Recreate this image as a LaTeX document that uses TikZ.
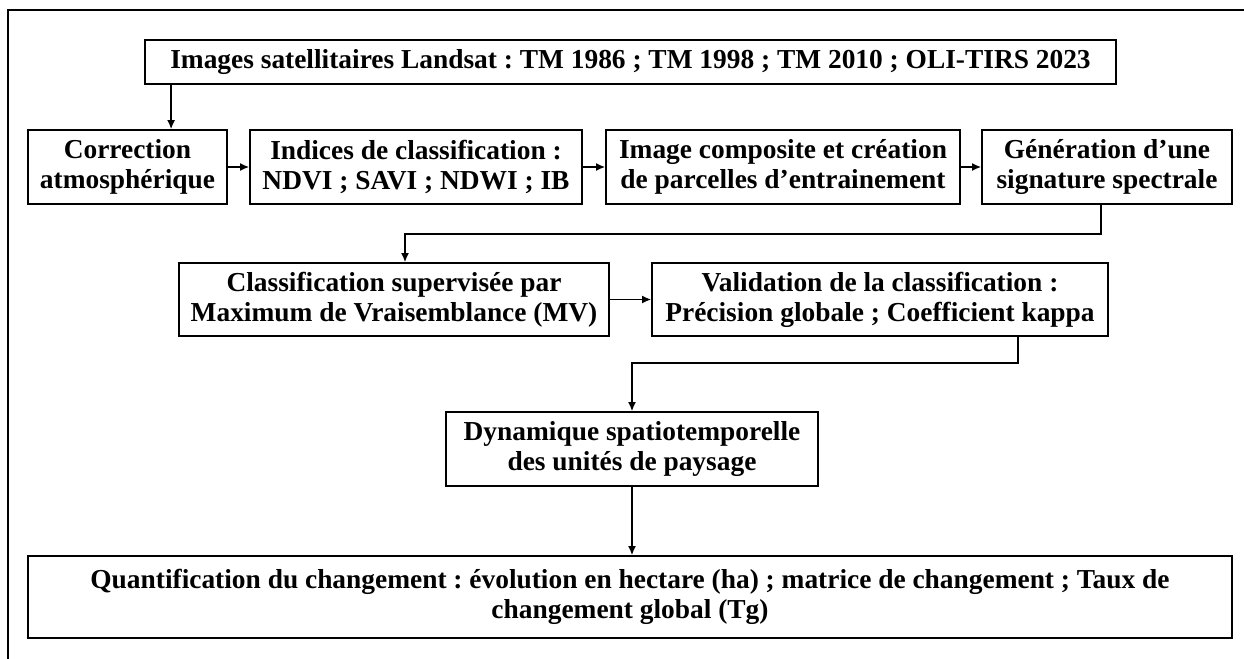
\documentclass[tikz,border=0pt]{standalone}
\usepackage{fontspec}
\setmainfont{Liberation Serif}
\usetikzlibrary{positioning,calc,arrows.meta}
\frenchspacing

\tikzset{
  etape/.style={draw, line width=0.9pt, align=center, inner sep=2pt,
    font=\fontsize{13.7}{15}\selectfont\bfseries},
  fleche/.style={->, line width=0.7pt},
}

\begin{document}
\begin{tikzpicture}[x=0.5pt, y=-0.5pt, >={Latex[length=4.5pt,width=4pt]}]
    \useasboundingbox (0,0) rectangle (1244,659);
    % cadre
    \draw[line width=0.7pt] (8,659) -- (8,10) -- (1244,10);

    % donnees
    \node[etape, minimum width=485.5pt, minimum height=22pt] (img) at (630.5,62) {Images satellitaires Landsat : TM 1986 ; TM 1998 ; TM 2010 ; OLI-TIRS 2023};

    % pretraitement
    \node[etape, minimum width=99.5pt, minimum height=37pt] (corr) at (127.5,167) {Correction\\atmosphérique};
    \node[etape, minimum width=166pt, minimum height=37pt] (ind) at (416,167) {Indices de classification :\\NDVI ; SAVI ; NDWI ; IB};
    \node[etape, minimum width=177pt, minimum height=37pt] (comp) at (783,167) {Image composite et création\\de parcelles d’entrainement};
    \node[etape, minimum width=125pt, minimum height=37pt] (sig) at (1107,167) {Génération d’une\\signature spectrale};
    \draw[fleche] ([xshift=13.5pt]img.south west) -- ([xshift=13.5pt]img.south west |- corr.north);
    \draw[fleche] (corr) -- (ind);
    \draw[fleche] (ind) -- (comp);
    \draw[fleche] (comp) -- (sig);

    % classification
    \node[etape, minimum width=215pt, minimum height=36.5pt] (clas) at (394,299.5) {Classification supervisée par\\Maximum de Vraisemblance (MV)};
    \node[etape, minimum width=228pt, minimum height=36.5pt] (valid) at (880,299.5) {Validation de la classification :\\Précision globale ; Coefficient kappa};
    \draw[fleche] ($(sig.south)+(-6,0)$) -- ++(0,29) -| ($(clas.north)+(11,0)$);
    \draw[fleche] (clas) -- (valid);

    % resultats
    \node[etape, minimum width=186pt, minimum height=37pt] (dyn) at (632,449) {Dynamique spatiotemporelle\\des unités de paysage};
    \node[etape, minimum width=602pt, minimum height=41pt] (quant) at (630,597) {Quantification du changement : évolution en hectare (ha) ; matrice de changement ; Taux de\\changement global (Tg)};
    \draw[fleche] ($(valid.south)+(138,0)$) -- ++(0,26) -| (dyn.north);
    \draw[fleche] (dyn) -- (dyn |- quant.north);
\end{tikzpicture}
\end{document}
